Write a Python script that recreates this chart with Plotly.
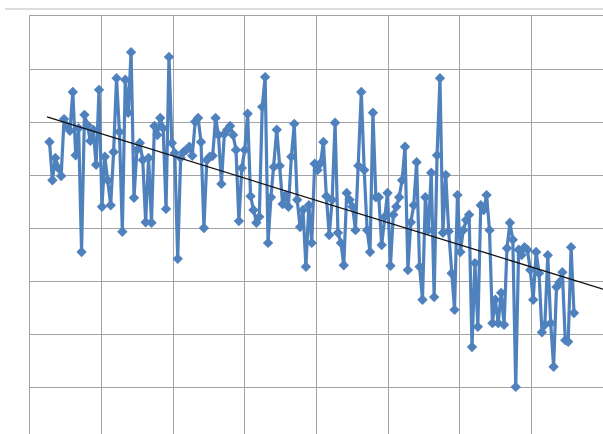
import plotly.graph_objects as go

# Series values, one per point, in order
values = [
    4.63, 3.91, 4.33, 4.14, 3.99, 5.06, 4.93, 4.84, 5.57, 4.38,
    4.89, 2.56, 5.14, 4.95, 4.65, 4.86, 4.20, 5.61, 3.41, 4.35,
    3.91, 3.44, 4.44, 5.83, 4.82, 2.94, 5.80, 5.18, 6.32, 3.58,
    4.48, 4.61, 4.29, 3.12, 4.33, 3.11, 4.93, 4.76, 5.08, 4.89,
    3.37, 6.23, 4.61, 4.42, 2.43, 4.33, 4.44, 4.48, 4.54, 4.37,
    5.01, 5.08, 4.63, 3.01, 4.29, 4.35, 4.37, 5.08, 4.76, 3.84,
    4.78, 4.86, 4.93, 4.76, 4.48, 3.14, 4.14, 4.48, 5.16, 3.61,
    3.35, 3.11, 3.22, 5.29, 5.85, 2.73, 3.59, 4.16, 4.86, 4.18,
    3.46, 3.63, 3.41, 4.35, 4.97, 3.54, 3.03, 3.35, 2.28, 3.44,
    2.73, 4.22, 4.10, 4.23, 4.63, 3.61, 2.88, 3.54, 4.99, 2.92,
    2.73, 2.31, 3.67, 3.54, 3.41, 2.97, 4.18, 5.57, 4.10, 2.97,
    2.56, 5.18, 3.59, 3.59, 2.69, 3.22, 3.67, 2.30, 3.26, 3.41,
    3.59, 3.91, 4.54, 2.22, 3.12, 3.44, 4.25, 2.28, 1.66, 3.59,
    2.97, 4.05, 1.71, 4.38, 5.83, 2.92, 4.01, 2.95, 2.16, 1.47,
    3.63, 2.56, 2.97, 3.16, 3.26, 0.77, 2.35, 1.15, 3.44, 3.35,
    3.63, 2.97, 1.22, 1.66, 1.22, 1.79, 1.19, 2.63, 3.11, 2.79,
    0.02, 2.60, 2.50, 2.65, 2.60, 2.22, 1.66, 2.56, 2.16, 1.05,
    1.19, 2.50, 1.22, 0.40, 1.90, 1.99, 2.18, 0.90, 0.87, 2.65,
    1.41,
]
points = list(range(1, len(values) + 1))

# Linear trend line endpoints
trend_x = [0.14, 190.95]
trend_y = [5.10, 1.86]

X_MIN, X_MAX = -5.69, 190.95
Y_MIN, Y_MAX = -0.866, 7.0

fig = go.Figure()
fig.add_trace(go.Scatter(
    x=points, y=values, mode="lines+markers",
    line=dict(color="#4F81BD", width=3.2),
    marker=dict(symbol="diamond", size=8, color="#4F81BD"),
    showlegend=False, hoverinfo="skip",
))
fig.add_trace(go.Scatter(
    x=trend_x, y=trend_y, mode="lines",
    line=dict(color="#111111", width=1.3),
    showlegend=False, hoverinfo="skip",
))

grid = "#a3a3a3"
fig.update_layout(
    width=603, height=434,
    margin=dict(l=30, r=0, t=16, b=0),
    paper_bgcolor="#ffffff", plot_bgcolor="#ffffff",
    xaxis=dict(range=[X_MIN, X_MAX], tick0=X_MIN, dtick=(X_MAX - X_MIN) / 8,
               showgrid=True, gridcolor=grid, gridwidth=1.3,
               showticklabels=False, ticks="", zeroline=False,
               showline=True, linecolor=grid, linewidth=1.3, mirror=True),
    yaxis=dict(range=[Y_MIN, Y_MAX], tick0=0, dtick=1,
               showgrid=True, gridcolor=grid, gridwidth=1.3,
               showticklabels=False, ticks="", zeroline=False,
               showline=True, linecolor=grid, linewidth=1.3, mirror=True),
    shapes=[dict(type="line", xref="paper", yref="paper",
                 x0=-25 / 573, x1=1, y0=1 + 7 / 418, y1=1 + 7 / 418,
                 line=dict(color="#cfcfcf", width=1.5))],
)

fig.write_html(
    "out.html",
    config={"displayModeBar": False},
    post_script="document.body.style.margin='0';document.body.style.overflow='hidden';",
)
